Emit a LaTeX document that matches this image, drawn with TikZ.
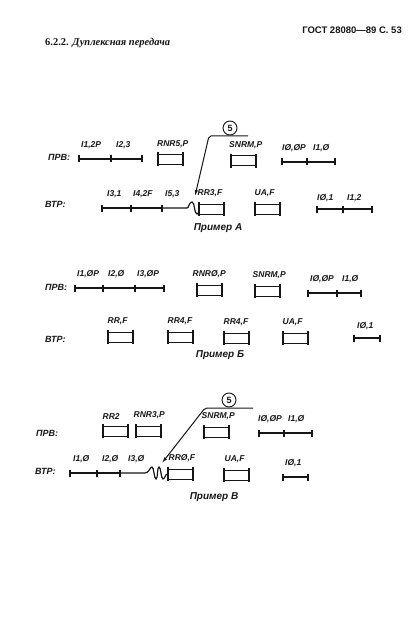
\documentclass[tikz,border=0pt]{standalone}
\usepackage{fontspec}
\setmainfont{Liberation Sans}
\newfontfamily\hdfont{Liberation Serif}
\usepackage{xcolor}
\definecolor{ink}{HTML}{161616}
\usepackage{tikz}
\usetikzlibrary{arrows.meta,positioning}

\begin{document}
\begin{tikzpicture}[x=1pt, y=-1pt, color=ink,
  lbl/.style={font=\fontsize{8.5}{9}\selectfont\bfseries\itshape, inner sep=0pt},
  chan/.style={font=\fontsize{9}{10}\selectfont\bfseries\itshape, inner sep=0pt, anchor=west},
  exname/.style={font=\fontsize{10}{11}\selectfont\bfseries\itshape, inner sep=0pt},
  sfr/.style={draw, line width=1pt, minimum width=24pt, minimum height=10pt, inner sep=0pt},
  ebar/.style={line width=2pt},
  ifr/.style={line width=1.2pt},
  tk/.style={line width=1.6pt},
  wig/.style={line width=1.2pt},
  arr/.style={-{Latex[length=6pt,width=3.5pt]}, line width=1pt, rounded corners=2pt},
  num/.style={draw, circle, line width=0.9pt, minimum size=14pt, inner sep=0pt,
    font=\fontsize{9}{10}\selectfont\bfseries}]
\useasboundingbox (0,0) rectangle (419,639);

% header
\node[font=\fontsize{9.5}{11}\selectfont\bfseries, anchor=east, inner sep=0pt] (gost) at (402,30) {ГОСТ 28080—89 С. 53};
\node[font=\hdfont\fontsize{10.5}{12}\selectfont\bfseries\itshape, anchor=west, inner sep=0pt] (sect) at (45,43) {{\upshape 6.2.2.} Дуплексная передача};

% ---------- Пример А ----------
\node[chan] (pA) at (48,157) {ПРВ:};
\node[chan] (vA) at (45,204) {ВТР:};
% primary: I-frames and S/U-frames
\coordinate (pA1) at (79,159);
\coordinate (pA2) at (111,159);
\coordinate (pA3) at (142,159);
\node[sfr] (bRNR5) at (170.5,159.5) {};
\node[sfr] (bSNRMa) at (243.5,161) {};
\coordinate (pA4) at (282,162);
\coordinate (pA5) at (307,162);
\coordinate (pA6) at (335,162);
\node[lbl, above right=9.5pt and 2pt of pA1] (lpA1) {I1,2P};
\node[lbl, above right=9.5pt and 5pt of pA2] (lpA2) {I2,3};
\node[lbl, above right=6pt and -1pt of bRNR5.north west] (lRNR5) {RNR5,P};
\node[lbl, above right=6pt and -2pt of bSNRMa.north west] (lSNRMa) {SNRM,P};
\node[lbl, above right=9.5pt and 0pt of pA4] (lpA4) {IØ,ØP};
\node[lbl, above right=9.5pt and 6pt of pA5] (lpA5) {I1,Ø};
% secondary
\coordinate (vA1) at (102,208);
\coordinate (vA2) at (131,208);
\coordinate (vA3) at (162,208);
\coordinate (wA) at (187,208);
\node[sfr] (bRR3) at (211,209) {};
\node[sfr] (bUAa) at (267,209) {};
\coordinate (vA4) at (317,209);
\coordinate (vA5) at (343,209);
\coordinate (vA6) at (372,209);
\node[lbl, above right=9.5pt and 5pt of vA1] (lvA1) {I3,1};
\node[lbl, above right=9.5pt and 2pt of vA2] (lvA2) {I4,2F};
\node[lbl, above right=9.5pt and 3pt of vA3] (lvA3) {I5,3};
\node[lbl, above right=6pt and -1pt of bRR3.north west] (lRR3) {RR3,F};
\node[lbl, above right=6pt and 0pt of bUAa.north west] (lUAa) {UA,F};
\node[lbl, above right=7pt and 0pt of vA4] (lvA4) {IØ,1};
\node[lbl, above right=7pt and 4pt of vA5] (lvA5) {I1,2};
\draw[ifr] (pA1) -- (pA2) -- (pA3) (pA4) -- (pA5) -- (pA6)
  (vA1) -- (vA2) -- (vA3) (vA4) -- (vA5) -- (vA6);
\draw[wig] (vA3) -- (wA) .. controls (189,208) and (189,202) .. (192,202)
  .. controls (195,202) and (194,214) .. (197,214) .. controls (199,214) and (199,209) .. (bRR3.west);
% retransmission mark
\node[num] (nA) at (230,128) {5};
\coordinate (hA) at (248,136);
\coordinate (kA) at (209,136);
\coordinate (tA) at (195,196);
\draw[arr] (hA) -- (kA) -- (tA);
\node[exname] (exA) at (218,228) {Пример А};

% ---------- Пример Б ----------
\node[chan] (pB) at (45,287) {ПРВ:};
\node[chan] (vB) at (45,339) {ВТР:};
\coordinate (pB1) at (75,288);
\coordinate (pB2) at (103,288);
\coordinate (pB3) at (135,288);
\coordinate (pB4) at (164,288);
\node[sfr] (bRNR0) at (209,290) {};
\node[sfr] (bSNRMb) at (267,291) {};
\coordinate (pB5) at (308,293);
\coordinate (pB6) at (337,293);
\coordinate (pB7) at (361,293);
\node[lbl, above right=9.5pt and 2pt of pB1] (lpB1) {I1,ØP};
\node[lbl, above right=9.5pt and 5pt of pB2] (lpB2) {I2,Ø};
\node[lbl, above right=9.5pt and 2pt of pB3] (lpB3) {I3,ØP};
\node[lbl, above right=6pt and -4pt of bRNR0.north west] (lRNR0) {RNRØ,P};
\node[lbl, above right=6pt and -2pt of bSNRMb.north west] (lSNRMb) {SNRM,P};
\node[lbl, above right=9.5pt and 2pt of pB5] (lpB5) {IØ,ØP};
\node[lbl, above right=9.5pt and 5pt of pB6] (lpB6) {I1,Ø};
\node[sfr] (bRR) at (120,337) {};
\node[sfr] (bRR4a) at (180,337) {};
\node[sfr] (bRR4b) at (236,338) {};
\node[sfr] (bUAb) at (295,338) {};
\coordinate (vB1) at (354,338);
\coordinate (vB2) at (380,338);
\node[lbl, above right=6pt and 0pt of bRR.north west] (lRR) {RR,F};
\node[lbl, above right=6pt and 0pt of bRR4a.north west] (lRR4a) {RR4,F};
\node[lbl, above right=6pt and 0pt of bRR4b.north west] (lRR4b) {RR4,F};
\node[lbl, above right=6pt and 0pt of bUAb.north west] (lUAb) {UA,F};
\node[lbl, above right=8pt and 3pt of vB1] (lvB1) {IØ,1};
\draw[ifr] (pB1) -- (pB2) -- (pB3) -- (pB4) (pB5) -- (pB6) -- (pB7) (vB1) -- (vB2);
\node[exname] (exB) at (220,355) {Пример Б};

% ---------- Пример В ----------
\node[chan] (pC) at (36,433) {ПРВ:};
\node[chan] (vC) at (35,471) {ВТР:};
\node[sfr] (bRR2) at (115,431) {};
\node[sfr] (bRNR3) at (148,431) {};
\node[sfr] (bSNRMc) at (216,432) {};
\coordinate (pC1) at (259,433);
\coordinate (pC2) at (284,433);
\coordinate (pC3) at (312,433);
\node[lbl, above right=6pt and 0pt of bRR2.north west] (lRR2) {RR2};
\node[lbl, above right=6pt and -2pt of bRNR3.north west] (lRNR3) {RNR3,P};
\node[lbl, above right=6pt and -2pt of bSNRMc.north west] (lSNRMc) {SNRM,P};
\node[lbl, above right=9.5pt and -1pt of pC1] (lpC1) {IØ,ØP};
\node[lbl, above right=9.5pt and 4pt of pC2] (lpC2) {I1,Ø};
\coordinate (vC1) at (70,473);
\coordinate (vC2) at (97,473);
\coordinate (vC3) at (120,473);
\coordinate (wC) at (145,473);
\node[sfr] (bRR0) at (180,474) {};
\node[sfr] (bUAc) at (236,475) {};
\coordinate (vC4) at (283,477);
\coordinate (vC5) at (308,477);
\node[lbl, above right=9.5pt and 3pt of vC1] (lvC1) {I1,Ø};
\node[lbl, above right=9.5pt and 5pt of vC2] (lvC2) {I2,Ø};
\node[lbl, above right=9.5pt and 8pt of vC3] (lvC3) {I3,Ø};
\node[lbl, above right=6pt and 1pt of bRR0.north west] (lRR0) {RRØ,F};
\node[lbl, above right=6pt and 1pt of bUAc.north west] (lUAc) {UA,F};
\node[lbl, above right=9.5pt and 2pt of vC4] (lvC4) {IØ,1};
\draw[ifr] (pC1) -- (pC2) -- (pC3) (vC1) -- (vC2) -- (vC3) (vC4) -- (vC5);
\draw[wig] (vC3) -- (wC) .. controls (149,473) and (150,467) .. (152,467)
  .. controls (154,467) and (154,479) .. (156,479) .. controls (158,479) and (157,467) .. (159,467)
  .. controls (161,467) and (161,479) .. (163,479) .. controls (165,479) and (165,474) .. (bRR0.west);
\node[num] (nC) at (229,400) {5};
\coordinate (hC) at (253,408);
\coordinate (kC) at (205,408);
\coordinate (tC) at (162,463);
\draw[arr] (hC) -- (kC) -- (tC);
\node[exname] (exC) at (214,497) {Пример В};

% frame boundaries on the I-frame lines
\foreach \c in {pA1,pA2,pA3,pA4,pA5,pA6,vA1,vA2,vA3,vA4,vA5,vA6,
    pB1,pB2,pB3,pB4,pB5,pB6,pB7,vB1,vB2,pC1,pC2,pC3,vC1,vC2,vC3,vC4,vC5}
  \draw[tk] ([yshift=3.5pt]\c) -- ([yshift=-3.5pt]\c);
% thick ends of the S/U frames
\foreach \b in {bRNR5,bSNRMa,bRR3,bUAa,bRNR0,bSNRMb,bRR,bRR4a,bRR4b,bUAb,bRR2,bRNR3,bSNRMc,bRR0,bUAc}
  \draw[ebar] ([yshift=1.5pt]\b.north west) -- ([yshift=-1.5pt]\b.south west)
    ([yshift=1.5pt]\b.north east) -- ([yshift=-1.5pt]\b.south east);
\end{tikzpicture}
\end{document}
